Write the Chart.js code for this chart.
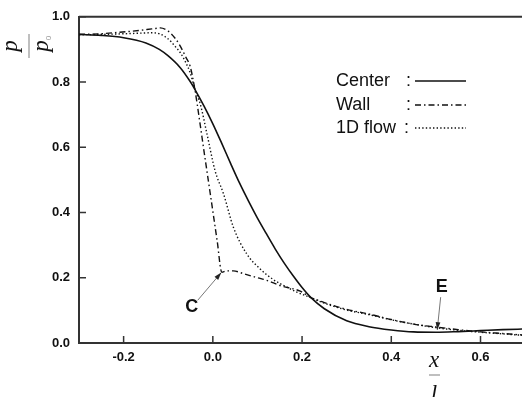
<!DOCTYPE html>
<html lang="en">
    <head>
        <meta charset="UTF-8" />
        <title>p / p0 along x / l</title>
        <script src="https://cdn.jsdelivr.net/npm/chart.js"></script>
        <style>
            html, body {
                margin: 0;
                padding: 0;
                background: #fff;
                overflow: hidden;
            }
        </style>
    </head>
    <body>
        <canvas id="myChart" width="522" height="397"></canvas>

        <script>
            const seriesLabels = ['Center', 'Wall', '1D flow']

            const centerX = [-0.3, -0.25, -0.2, -0.15, -0.12, -0.1, -0.073, -0.05, -0.04, -0.02, 0.0, 0.02, 0.04, 0.06, 0.08, 0.1, 0.12, 0.14, 0.16, 0.18, 0.2, 0.22, 0.25, 0.3, 0.35, 0.4, 0.45, 0.5, 0.55, 0.6, 0.65, 0.7]
            const centerY = [0.946, 0.943, 0.936, 0.92, 0.9, 0.88, 0.844, 0.8, 0.777, 0.727, 0.672, 0.612, 0.55, 0.49, 0.435, 0.383, 0.335, 0.288, 0.245, 0.206, 0.17, 0.139, 0.105, 0.068, 0.05, 0.04, 0.034, 0.033, 0.035, 0.038, 0.041, 0.043]

            const wallX = [-0.3, -0.25, -0.224, -0.18, -0.148, -0.13, -0.118, -0.1, -0.085, -0.073, -0.06, -0.051, -0.04, -0.03, -0.02, -0.01, 0.0, 0.01, 0.02, 0.03, 0.046, 0.07, 0.1, 0.121, 0.151, 0.196, 0.218, 0.25, 0.3, 0.346, 0.4, 0.45, 0.5, 0.55, 0.6, 0.65, 0.7]
            const wallY = [0.946, 0.948, 0.951, 0.956, 0.961, 0.964, 0.966, 0.956, 0.935, 0.91, 0.875, 0.849, 0.775, 0.685, 0.59, 0.497, 0.404, 0.31, 0.217, 0.221, 0.221, 0.212, 0.2, 0.192, 0.176, 0.159, 0.141, 0.124, 0.103, 0.09, 0.072, 0.058, 0.049, 0.041, 0.034, 0.029, 0.024]

            const flowX = [-0.3, -0.25, -0.2, -0.16, -0.14, -0.12, -0.1, -0.085, -0.073, -0.06, -0.051, -0.04, -0.028, -0.013, 0.005, 0.024, 0.046, 0.076, 0.106, 0.135, 0.166, 0.19, 0.218, 0.25, 0.3, 0.35, 0.4, 0.45, 0.5, 0.55, 0.6, 0.65, 0.7]
            const flowY = [0.945, 0.946, 0.948, 0.95, 0.951, 0.948, 0.932, 0.91, 0.89, 0.858, 0.829, 0.779, 0.732, 0.64, 0.528, 0.457, 0.355, 0.273, 0.227, 0.195, 0.171, 0.155, 0.14, 0.122, 0.101, 0.087, 0.071, 0.058, 0.047, 0.039, 0.033, 0.028, 0.023]

            const xTicks = [-0.2, 0.0, 0.2, 0.4, 0.6]
            const yTicks = [0.0, 0.2, 0.4, 0.6, 0.8, 1.0]

            // annotation labels and arrow tips, in data units
            const notes = [
                { text: 'C', x: -0.047, y: 0.11, tipX: 0.019, tipY: 0.216 },
                { text: 'E', x: 0.513, y: 0.171, tipX: 0.503, tipY: 0.04 },
            ]

            const toPoints = (xs, ys) => xs.map((x, i) => ({ x: x, y: ys[i] }))

            const lineStyles = [
                { dash: [], width: 1.6 },
                { dash: [6, 3, 1.5, 3], width: 1.4 },
                { dash: [1.4, 2.2], width: 1.4 },
            ]

            const allSeries = [toPoints(centerX, centerY), toPoints(wallX, wallY), toPoints(flowX, flowY)]

            const data = {
                datasets: allSeries.map((pts, i) => ({
                    label: seriesLabels[i],
                    data: pts,
                    borderColor: '#111',
                    borderWidth: lineStyles[i].width,
                    borderDash: lineStyles[i].dash,
                    pointRadius: 0,
                    fill: false,
                    cubicInterpolationMode: 'monotone',
                })),
            }

            const tickFont = { family: "'Liberation Sans', Arial, sans-serif", size: 13, weight: 'bold' }

            function drawArrow(ctx, x1, y1, x2, y2) {
                const a = Math.atan2(y2 - y1, x2 - x1)
                ctx.beginPath()
                ctx.moveTo(x1, y1)
                ctx.lineTo(x2, y2)
                ctx.stroke()
                ctx.beginPath()
                ctx.moveTo(x2, y2)
                ctx.lineTo(x2 - 8 * Math.cos(a - 0.3), y2 - 8 * Math.sin(a - 0.3))
                ctx.lineTo(x2 - 8 * Math.cos(a + 0.3), y2 - 8 * Math.sin(a + 0.3))
                ctx.closePath()
                ctx.fill()
            }

            const decorations = {
                id: 'decorations',
                afterDatasetsDraw(chart) {
                    const { ctx, chartArea, scales } = chart
                    const xs = scales.x
                    const ys = scales.y
                    ctx.save()

                    // top frame line
                    ctx.strokeStyle = '#333'
                    ctx.lineWidth = 2
                    ctx.beginPath()
                    ctx.moveTo(chartArea.left, chartArea.top)
                    ctx.lineTo(chartArea.right, chartArea.top)
                    ctx.stroke()

                    // inward ticks
                    ctx.lineWidth = 1.5
                    ctx.beginPath()
                    xTicks.forEach((v) => {
                        const px = xs.getPixelForValue(v)
                        ctx.moveTo(px, chartArea.bottom)
                        ctx.lineTo(px, chartArea.bottom - 7)
                    })
                    yTicks.forEach((v) => {
                        const py = ys.getPixelForValue(v)
                        ctx.moveTo(chartArea.left, py)
                        ctx.lineTo(chartArea.left + 7, py)
                    })
                    ctx.stroke()

                    // legend
                    ctx.fillStyle = '#111'
                    ctx.strokeStyle = '#111'
                    ctx.font = "18px 'Liberation Sans', Arial, sans-serif"
                    ctx.textBaseline = 'alphabetic'
                    const rows = [86, 110, 133]
                    chart.data.datasets.forEach((ds, i) => {
                        ctx.textAlign = 'left'
                        ctx.fillText(ds.label, 336, rows[i])
                        ctx.fillText(':', i === 2 ? 404 : 406, rows[i])
                        ctx.lineWidth = ds.borderWidth
                        ctx.setLineDash(ds.borderDash)
                        ctx.beginPath()
                        ctx.moveTo(415, rows[i] - 5)
                        ctx.lineTo(466, rows[i] - 5)
                        ctx.stroke()
                        ctx.setLineDash([])
                    })

                    // annotations
                    ctx.font = "bold 18px 'Liberation Sans', Arial, sans-serif"
                    ctx.textAlign = 'center'
                    ctx.textBaseline = 'middle'
                    notes.forEach((n) => {
                        const lx = xs.getPixelForValue(n.x)
                        const ly = ys.getPixelForValue(n.y)
                        const tx = xs.getPixelForValue(n.tipX)
                        const ty = ys.getPixelForValue(n.tipY)
                        ctx.fillStyle = '#111'
                        ctx.fillText(n.text, lx, ly)
                        ctx.strokeStyle = '#777'
                        ctx.fillStyle = '#222'
                        ctx.lineWidth = 1
                        const dx = tx - lx
                        const dy = ty - ly
                        const len = Math.hypot(dx, dy)
                        const start = n.text === 'C' ? 9 : 10
                        drawArrow(ctx, lx + (dx / len) * start, ly + (dy / len) * start, tx, ty)
                    })

                    // axis titles as fractions
                    const serif = "italic 23px 'Liberation Serif', 'Times New Roman', serif"
                    ctx.fillStyle = '#111'
                    ctx.font = serif
                    ctx.textAlign = 'center'
                    ctx.textBaseline = 'alphabetic'
                    // x / l
                    ctx.fillText('x', 434, 367)
                    ctx.fillText('l', 434, 401)
                    ctx.strokeStyle = '#aaa'
                    ctx.lineWidth = 1.5
                    ctx.beginPath()
                    ctx.moveTo(429, 375)
                    ctx.lineTo(440, 375)
                    ctx.stroke()

                    // p / p0, rotated
                    ctx.translate(29, 46)
                    ctx.rotate(-Math.PI / 2)
                    ctx.fillText('p', 0, -12)
                    ctx.fillText('p', 0, 19)
                    ctx.font = "8px 'Liberation Sans', Arial, sans-serif"
                    ctx.fillStyle = '#999'
                    ctx.fillText('0', 8, 22)
                    ctx.beginPath()
                    ctx.moveTo(-12, 0)
                    ctx.lineTo(12, 0)
                    ctx.stroke()

                    ctx.restore()
                },
            }

            const config = {
                type: 'line',
                data: data,
                options: {
                    responsive: false,
                    animation: false,
                    layout: { padding: { top: 16, left: 0, right: 0, bottom: 0 } },
                    plugins: {
                        legend: { display: false },
                        tooltip: { enabled: false },
                    },
                    scales: {
                        x: {
                            type: 'linear',
                            min: -0.3,
                            max: 0.693,
                            grid: { display: false, drawTicks: false },
                            border: { display: true, color: '#333', width: 2 },
                            afterBuildTicks: (scale) => {
                                scale.ticks = xTicks.map((v) => ({ value: v }))
                            },
                            afterFit: (scale) => {
                                scale.height = 54
                            },
                            ticks: {
                                padding: 7,
                                color: '#111',
                                font: tickFont,
                                maxRotation: 0,
                                autoSkip: false,
                                callback: (v) => v.toFixed(1),
                            },
                        },
                        y: {
                            min: 0,
                            max: 1,
                            grid: { display: false, drawTicks: false },
                            border: { display: true, color: '#333', width: 2 },
                            afterBuildTicks: (scale) => {
                                scale.ticks = yTicks.map((v) => ({ value: v }))
                            },
                            afterFit: (scale) => {
                                scale.width = 79
                            },
                            ticks: {
                                padding: 9,
                                color: '#111',
                                font: tickFont,
                                autoSkip: false,
                                callback: (v) => v.toFixed(1),
                            },
                        },
                    },
                },
                plugins: [decorations],
            }

            const myChart = new Chart(document.getElementById('myChart'), config)
        </script>
    </body>
</html>
